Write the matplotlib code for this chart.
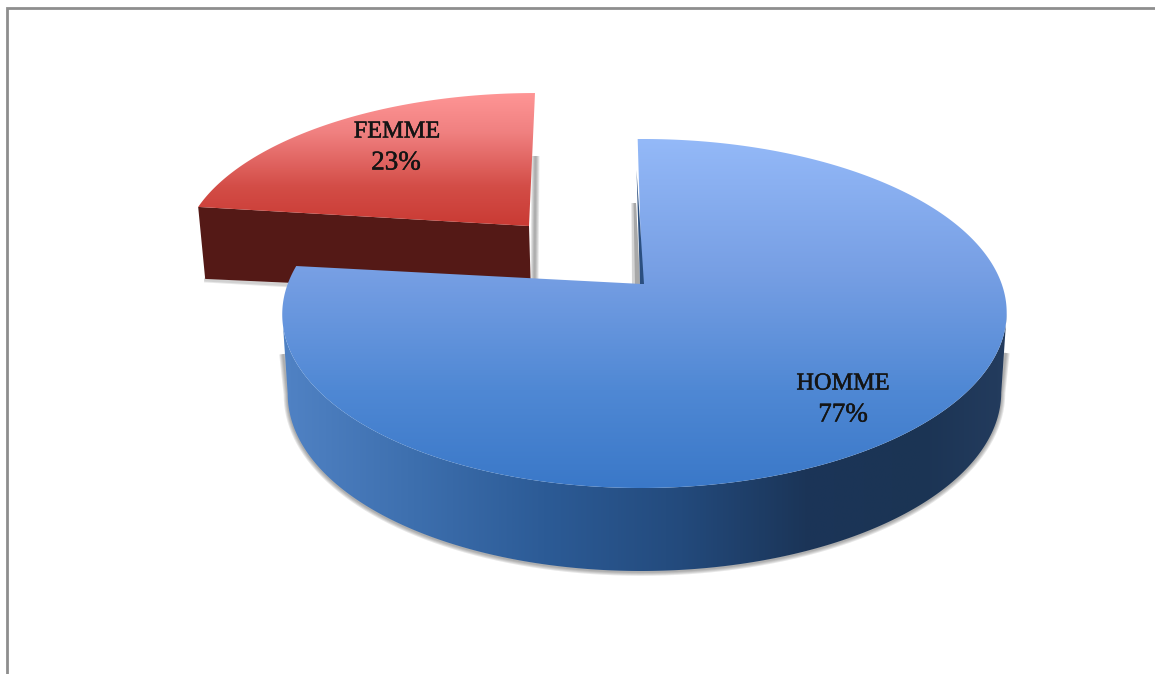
import numpy as np
import matplotlib
matplotlib.use("Agg")
import matplotlib.pyplot as plt
import matplotlib.patheffects as pe
from matplotlib.patches import Polygon
from matplotlib.colors import LinearSegmentedColormap

labels = ["HOMME", "FEMME"]
shares = [77, 23]

W, H = 1155, 674
fig = plt.figure(figsize=(W / 100, H / 100), dpi=100, facecolor="white")
ax = fig.add_axes([0, 0, 1, 1])
ax.set_xlim(0, W)
ax.set_ylim(H, 0)
ax.axis("off")

# perspective model of the pie's top face
BACK, FRONT = 145.0, 204.0
K = (FRONT - BACK) / (FRONT + BACK)
B = BACK * (1 + K)
A = 357.0


def project(theta, apex, sx=1.0, sy=1.0, shear=1.0, bow=2.7):
    """theta: degrees clockwise from 12 o'clock."""
    t = np.radians(theta)
    X, Y = np.sin(t), np.cos(t)
    u = A * X / (1 + K * Y) * sx + bow * X ** 2 + shear * Y
    v = -B * Y / (1 + K * Y) * sy
    return apex[0] + u, apex[1] + v


def gradient(patch_xy, stops, extent, vertical=True, zorder=2):
    cmap = LinearSegmentedColormap.from_list("g", stops)
    g = np.linspace(0, 1, 512)
    g = g[:, None] if vertical else g[None, :]
    im = ax.imshow(g, cmap=cmap, extent=extent, aspect="auto", zorder=zorder,
                   interpolation="bilinear", vmin=0, vmax=1)
    clip = Polygon(patch_xy, closed=True, transform=ax.transData, facecolor="none", edgecolor="none")
    ax.add_patch(clip)
    im.set_clip_path(clip)
    ax.set_xlim(0, W)
    ax.set_ylim(H, 0)


def soft_line(x, y, zorder, widths=(8, 6, 4, 2), alpha=0.13, color="#444444"):
    for w in widths:
        ax.plot(x, y, color=color, lw=w * 0.72, alpha=alpha, zorder=zorder,
                solid_capstyle="butt", solid_joinstyle="round")


# frame
ax.plot([7, 7, W], [H, 8, 8], color="#8e8e8e", lw=2.0, zorder=1, solid_joinstyle="miter")

start_h = -1.0
sweep_h = 360 * shares[0] / sum(shares)
apex_h = (642, 284)
apex_f = (529, 226)

# ---- FEMME slice
th_f = np.linspace(sweep_h, 360, 120)
fx, fy = project(th_f, apex_f, sx=0.956, sy=0.917, shear=6.0, bow=0)
f_top = np.column_stack([np.r_[apex_f[0], fx], np.r_[apex_f[1], fy]])

# shadows of the FEMME slice
soft_line([535.5, 534.5], [156, 279], 1.5)
soft_line([fx[0] + 6, 292], [fy[0] + 73, 285], 1.5, widths=(5, 3))

side_f = [(fx[0], fy[0]), apex_f, (apex_f[0] + 2, apex_f[1] + 68), (fx[0] + 7, fy[0] + 72)]
ax.add_patch(Polygon(side_f, closed=True, facecolor="#541916", edgecolor="none", zorder=2))
gradient(f_top,
         [(0, "#ff9696"), (0.3, "#f08080"), (0.7, "#d34d47"), (1, "#c93a33")],
         [190, 540, 227, 92], zorder=3)

# ---- HOMME slice
th_h = np.linspace(start_h, start_h + sweep_h, 500)
hx, hy = project(th_h, apex_h)
h_top = np.column_stack([np.r_[apex_h[0], hx], np.r_[apex_h[1], hy]])

# rim of the base
Y = np.cos(np.radians(th_h))
cx_mid = 645.5
bx = cx_mid + (hx - cx_mid) * 0.985
by = hy + 79 - 4.0 * Y

i_r = int(np.argmax(hx))
i_l = int(np.argmin(hx))
rim_top = np.column_stack([hx[i_r:i_l + 1], hy[i_r:i_l + 1]])
rim_bot = np.column_stack([bx[i_r:i_l + 1], by[i_r:i_l + 1]])[::-1]
side_h = np.vstack([rim_top, rim_bot])

# shadows of the HOMME slice
soft_line(np.r_[rim_top[-1, 0] + 1, rim_bot[:, 0], rim_top[0, 0] - 1],
          np.r_[rim_top[-1, 1] + 40, rim_bot[:, 1] + 0.8, rim_top[0, 1] + 40], 3.2)
# shadow at the cut
ax.add_patch(Polygon([(631.5, 203), (636, 203), (640, 284), (632, 284)], closed=True,
                     facecolor="#d4d4d4", edgecolor="none", zorder=3.2))
ax.add_patch(Polygon([(633.5, 203), (636, 203), (640, 284), (635, 284)], closed=True,
                     facecolor="#a8a8a8", edgecolor="none", zorder=3.2))

gradient(side_h,
         [(0, "#5082c4"), (0.18, "#3d6fae"), (0.36, "#2c5b96"), (0.55, "#234a7c"),
          (0.72, "#1b3558"), (0.88, "#1b3454"), (1, "#243c5e")],
         [283, 1009, 600, 300], vertical=False, zorder=3.4)
gradient(h_top,
         [(0, "#94b9f8"), (0.38, "#779fe4"), (0.72, "#4f88d4"), (1, "#3a78c8")],
         [270, 1020, 489, 138], zorder=3.6)
ax.add_patch(Polygon([(636.5, 170), (640, 284), (644, 284)], closed=True,
                     facecolor="#2b4f80", edgecolor="none", zorder=3.8))

# labels
stroke = [pe.withStroke(linewidth=0.35, foreground="#141414")]
name_style = dict(family="Liberation Serif", fontsize=17.5, color="#141414",
                  ha="center", va="center", zorder=5, path_effects=stroke)
pct_style = dict(name_style, fontsize=19.5)
ax.text(397, 132, labels[1], **name_style)
ax.text(396, 163, f"{shares[1]}%", **pct_style)
ax.text(843, 384, labels[0], **name_style)
ax.text(843, 415, f"{shares[0]}%", **pct_style)

fig.savefig("out.png", dpi=100, facecolor="white")
